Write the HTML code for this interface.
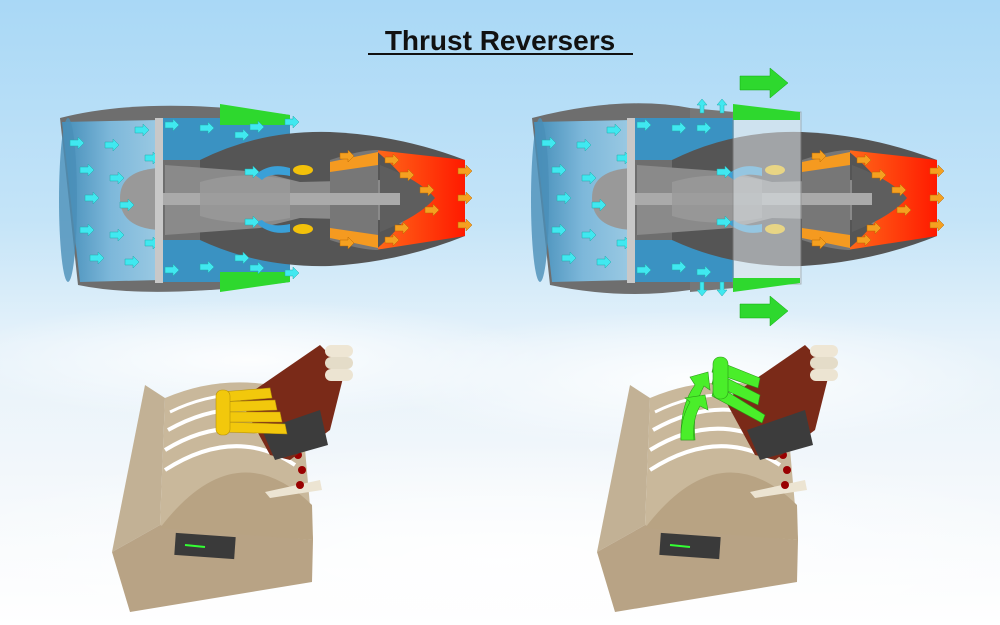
<!DOCTYPE html>
<html><head><meta charset="utf-8"><style>
html,body{margin:0;padding:0;width:1000px;height:625px;overflow:hidden}
body{background:linear-gradient(#a9d8f6 0%,#c4e4f8 35%,#e6f2fa 55%,#f2f7fb 75%,#ffffff 100%);font-family:"Liberation Sans",sans-serif}
svg{display:block}
</style></head><body>
<svg width="1000" height="625" viewBox="0 0 1000 625" style="position:absolute;left:0;top:0">
<defs>
<radialGradient id="cl" cx="50%" cy="50%" r="50%"><stop offset="0" stop-color="#fff" stop-opacity=".9"/><stop offset="1" stop-color="#fff" stop-opacity="0"/></radialGradient>
<linearGradient id="intake" x1="0" x2="1"><stop offset="0" stop-color="#3f90c0"/><stop offset=".5" stop-color="#7fc0e6"/><stop offset="1" stop-color="#a0d4f0"/></linearGradient>
<linearGradient id="hot" x1="0" x2="1"><stop offset="0" stop-color="#ff6a1a"/><stop offset="1" stop-color="#ff1a00"/></linearGradient>
<g id="ca"><path d="M0,-3h8v-3l6,6-6,6v-3h-8z" fill="#40e8f0" stroke="#2aa" stroke-width=".5"/></g>
<g id="oa"><path d="M0,-3h8v-3l6,6-6,6v-3h-8z" fill="#f5a020" stroke="#b60" stroke-width=".5"/></g>
<g id="core">
  <path d="M200,160 Q260,130 330,132 Q400,135 465,160 L465,236 Q400,262 330,266 Q260,268 200,240 Z" fill="#555"/>
  <path d="M165,165 L260,172 L300,182 L380,180 L465,160 L465,236 L380,220 L300,218 L260,228 L165,235 Z" fill="#8a8a8a"/>
  <path d="M375,150 L465,160 L465,236 L375,250 Q400,230 420,198 Q400,170 375,150Z" fill="url(#hot)"/>
  <path d="M330,160 Q360,150 378,150 L378,250 Q360,250 330,240 Z" fill="#777"/>
  <path d="M330,162 L378,152 L378,165 L330,172Z M330,238 L378,248 L378,235 L330,228Z" fill="#f59a20"/>
  <path d="M380,165 Q420,180 435,198 Q420,216 380,232Z" fill="#5e5e5e"/>
  <path d="M120,198 Q120,170 160,168 L160,230 Q120,228 120,198Z" fill="#999"/>
  <rect x="160" y="193" width="240" height="12" fill="#aaa"/>
  <path d="M200,182 Q240,170 290,180 L290,218 Q240,228 200,216Z" fill="#9a9a9a" opacity=".8"/>
  <path d="M255,175 Q270,162 290,168 L290,176 Q270,172 262,180Z M255,222 Q270,236 290,232 L290,224 Q270,228 262,220Z" fill="#3aa0d8"/>
  <ellipse cx="303" cy="170" rx="10" ry="5" fill="#f3c10a"/>
  <ellipse cx="303" cy="229" rx="10" ry="5" fill="#f3c10a"/>
  <use href="#oa" x="340" y="156"/><use href="#oa" x="340" y="243"/><use href="#oa" x="385" y="160"/><use href="#oa" x="400" y="175"/><use href="#oa" x="420" y="190"/><use href="#oa" x="425" y="210"/><use href="#oa" x="395" y="228"/><use href="#oa" x="385" y="240"/><use href="#oa" x="458" y="171"/><use href="#oa" x="458" y="198"/><use href="#oa" x="458" y="225"/>
  <use href="#ca" x="245" y="172"/><use href="#ca" x="245" y="222"/>
</g>
<g id="front">
  <path d="M60,118 Q150,95 290,115 L290,282 Q150,300 78,285 Z" fill="#6e6e6e"/>
  <path d="M62,122 L160,120 L160,280 L80,282 Z" fill="url(#intake)" opacity=".9"/>
  <ellipse cx="68" cy="200" rx="9" ry="82" fill="#4a8fb8" opacity=".8"/>
  <path d="M158,118 L290,118 L290,148 Q240,148 220,160 L160,160 Z" fill="#3a92c2"/>
  <path d="M158,282 L290,282 L290,252 Q240,252 220,240 L160,240 Z" fill="#3a92c2"/>
</g>
<g id="frontarrows">
  <use href="#ca" x="70" y="143"/><use href="#ca" x="105" y="145"/><use href="#ca" x="80" y="170"/><use href="#ca" x="110" y="178"/><use href="#ca" x="85" y="198"/><use href="#ca" x="120" y="205"/><use href="#ca" x="80" y="230"/><use href="#ca" x="110" y="235"/><use href="#ca" x="90" y="258"/><use href="#ca" x="125" y="262"/><use href="#ca" x="135" y="130"/><use href="#ca" x="145" y="158"/><use href="#ca" x="145" y="243"/>
  <use href="#ca" x="165" y="125"/><use href="#ca" x="200" y="128"/><use href="#ca" x="165" y="270"/><use href="#ca" x="200" y="267"/>
  <rect x="155" y="118" width="8" height="165" fill="#c8c8c8"/>
</g>
<g id="box">
  <path d="M145,385 L165,398 L160,525 L112,552Z" fill="#c2b195"/>
  <path d="M112,552 L160,525 L313,540 L312,582 L130,612Z" fill="#b8a385"/>
  <path d="M165,398 Q230,370 300,392 L313,540 L160,525Z" fill="#c9b89b"/>
  <path d="M160,528 Q235,430 312,505 L313,540Z" fill="#b8a383"/>
  <path d="M165,470 Q235,425 295,465" fill="none" stroke="#fff" stroke-width="4"/>
  <path d="M165,450 Q230,410 290,445" fill="none" stroke="#fff" stroke-width="4"/>
  <path d="M168,430 Q230,395 285,420" fill="none" stroke="#fff" stroke-width="4"/>
  <path d="M170,412 Q225,385 280,400" fill="none" stroke="#fff" stroke-width="3"/>
  <rect x="175" y="535" width="60" height="22" fill="#3a3a3a" transform="rotate(4 205 546)"/>
  <path d="M185,545 L205,547" stroke="#3f3" stroke-width="2"/>
  <path d="M265,492 L320,480 L322,490 L270,498Z" fill="#ece4d2"/>
  <circle cx="298" cy="455" r="4" fill="#900"/><circle cx="302" cy="470" r="4" fill="#900"/><circle cx="300" cy="485" r="4" fill="#900"/>
</g>
<g id="arm">
  <path d="M240,400 L320,345 L345,370 L330,430 L290,460 L270,455Z" fill="#7a2a18"/>
  <path d="M262,430 L320,410 L328,445 L275,460Z" fill="#3c3c3c"/>
  <rect x="325" y="345" width="28" height="12" rx="6" fill="#eee6d4"/>
  <rect x="325" y="357" width="28" height="12" rx="6" fill="#e4dcc8"/>
  <rect x="325" y="369" width="28" height="12" rx="6" fill="#ece4d2"/>
</g>
</defs>
<ellipse cx="250" cy="360" rx="300" ry="60" fill="url(#cl)"/>
<ellipse cx="700" cy="380" rx="320" ry="70" fill="url(#cl)"/>
<ellipse cx="500" cy="560" rx="600" ry="120" fill="url(#cl)"/>
<text x="500" y="50" text-anchor="middle" font-size="28" font-weight="bold" fill="#111">Thrust Reversers</text>
<line x1="368" y1="54" x2="633" y2="54" stroke="#111" stroke-width="2"/>
<!-- left engine -->
<use href="#front"/>
<use href="#core"/>
<path d="M220,104 L290,115 L290,125 L220,125Z" fill="#2ed82e"/>
<path d="M220,272 L290,272 L290,282 L220,292Z" fill="#2ed82e"/>
<use href="#frontarrows"/>
<use href="#ca" x="235" y="135"/><use href="#ca" x="250" y="127"/><use href="#ca" x="285" y="122"/>
<use href="#ca" x="235" y="258"/><use href="#ca" x="250" y="268"/><use href="#ca" x="285" y="273"/>
<!-- right engine -->
<g transform="translate(472,0)">
  <path d="M60,118 Q150,95 218,108 L218,290 Q150,300 78,285 Z" fill="#6e6e6e"/>
  <path d="M62,122 L160,120 L160,280 L80,282 Z" fill="url(#intake)" opacity=".9"/>
  <ellipse cx="68" cy="200" rx="9" ry="82" fill="#4a8fb8" opacity=".8"/>
  <path d="M158,118 L262,118 L262,140 Q240,148 220,160 L160,160 Z" fill="#3a92c2"/>
  <path d="M158,282 L262,282 L262,258 Q240,252 220,240 L160,240 Z" fill="#3a92c2"/>
  <path d="M218,108 L262,112 L262,118 L218,118Z M218,282 L262,282 L262,288 L218,292Z" fill="#777"/>
  <use href="#core"/>
  <use href="#frontarrows"/>
  <use href="#ca" x="225" y="128"/><use href="#ca" x="225" y="272"/>
</g>
<g fill="#40e8f0" stroke="#2aa" stroke-width=".5">
  <path d="M697,105 l5,-6 5,6 h-3 v8 h-4 v-8z"/><path d="M717,105 l5,-6 5,6 h-3 v8 h-4 v-8z"/>
  <path d="M697,290 l5,6 5,-6 h-3 v-8 h-4 v8z"/><path d="M717,290 l5,6 5,-6 h-3 v-8 h-4 v8z"/>
</g>
<rect x="733" y="112" width="68" height="172" fill="#e0e6ea" opacity=".55" stroke="#888"/>
<path d="M733,104 L800,112 L800,120 L733,120Z" fill="#2ed82e"/>
<path d="M733,278 L800,278 L800,283 L733,292Z" fill="#2ed82e"/>
<path d="M740,76 h30 v-8 l18,15 -18,15 v-8 h-30z" fill="#2ed82e" stroke="#1a1" stroke-width=".5"/>
<path d="M740,304 h30 v-8 l18,15 -18,15 v-8 h-30z" fill="#2ed82e" stroke="#1a1" stroke-width=".5"/>
<use href="#box"/>
<use href="#arm"/>
<g fill="#f2c80c" stroke="#b8920a" stroke-width=".6">
  <path d="M220,392 L270,388 L272,398 L222,402Z"/><path d="M220,402 L275,400 L277,410 L222,412Z"/>
  <path d="M220,412 L280,412 L282,422 L222,422Z"/><path d="M220,422 L285,424 L287,434 L222,432Z"/>
  <rect x="216" y="390" width="14" height="45" rx="6"/>
</g>
<g transform="translate(485,0)">
  <use href="#box"/>
  <use href="#arm"/>
</g>
<g fill="#4aee2a" stroke="#2a9a18" stroke-width=".6">
  <path d="M715,360 L760,378 L758,388 L712,372Z"/><path d="M715,372 L760,395 L758,405 L712,384Z"/><path d="M715,384 L765,415 L762,423 L712,396Z"/>
  <rect x="713" y="357" width="15" height="42" rx="7"/>
  <path d="M681,440 Q680,405 695,385 L690,377 L708,372 L710,390 L704,386 Q692,408 695,440Z"/>
  <path d="M681,440 Q680,420 690,402 L685,398 L705,395 L708,410 L700,406 Q692,420 694,440Z"/>
</g>
</svg>
</body></html>
